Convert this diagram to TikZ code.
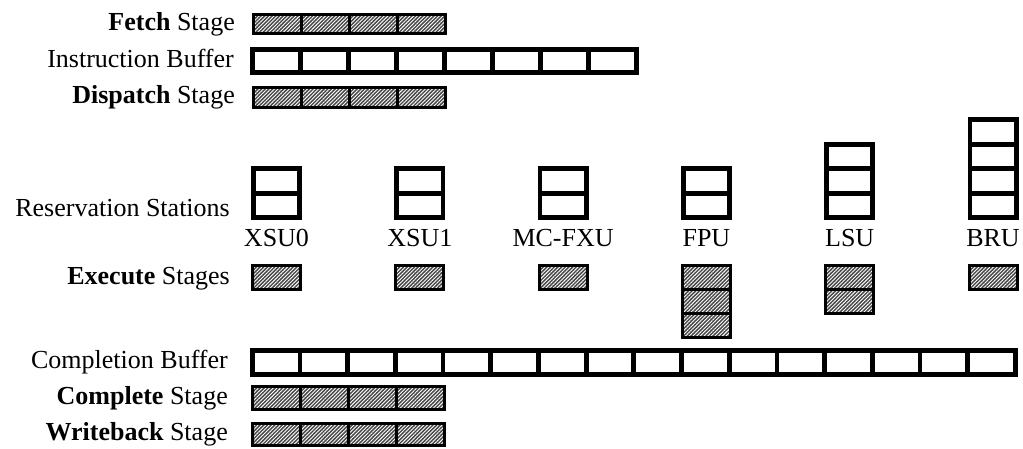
\documentclass[tikz,border=0pt]{standalone}
\usepackage{fontspec}
\setmainfont{Liberation Serif}
\usetikzlibrary{patterns.meta}
\begin{document}
\begin{tikzpicture}[x=1pt,y=-1pt,
  lbl/.style={inner sep=0pt,font=\fontsize{26}{30}\selectfont},
  hatch/.style={preaction={fill=black!72},pattern={Lines[angle=45,distance=2.6pt,line width=0.9pt]},pattern color=white},
  stagecell/.style={draw,line width=3pt,hatch,inner sep=0pt,minimum width=48pt},
  bufcell/.style={draw,line width=4.8pt,fill=white,inner sep=0pt,minimum width=48pt},
  rscell/.style={draw,line width=4.8pt,fill=white,inner sep=0pt,minimum width=46.2pt,minimum height=24.5pt},
  execcell/.style={draw,line width=3pt,hatch,inner sep=0pt,minimum width=48pt,minimum height=24pt}
]
\useasboundingbox (0,0) rectangle (1023,448);

% row labels
\node[lbl,anchor=mid east] (lfetch) at (235,28) {\textbf{Fetch} Stage};
\node[lbl,anchor=mid east] (lib) at (234,65) {Instruction Buffer};
\node[lbl,anchor=mid east] (ldisp) at (235,101.5) {\textbf{Dispatch} Stage};
\node[lbl,anchor=base east] (lrs) at (230,216) {Reservation Stations};
\node[lbl,anchor=mid east] (lex) at (230,282) {\textbf{Execute} Stages};
\node[lbl,anchor=mid east] (lcb) at (228,366.5) {Completion Buffer};
\node[lbl,anchor=mid east] (lcomp) at (228,402) {\textbf{Complete} Stage};
\node[lbl,anchor=mid east] (lwb) at (228,438) {\textbf{Writeback} Stage};

% fetch stage
\foreach \i in {0,...,3}
  \node[stagecell,minimum height=19pt] (fetch\i) at (277.5+48*\i,24) {};
% instruction buffer
\foreach \i in {0,...,7}
  \node[bufcell,minimum height=23.5pt] (ib\i) at (276.25+48*\i,61) {};
% dispatch stage
\foreach \i in {0,...,3}
  \node[stagecell,minimum height=20pt] (disp\i) at (277.5+48*\i,97.5) {};

% reservation stations
\foreach \name/\cx/\n in {XSU0/276.5/2, XSU1/419.8/2, MC-FXU/563.1/2, FPU/706.4/2, LSU/849.7/3, BRU/993/4}{
  \foreach \k in {1,...,\n}
    \node[rscell] (rs\name\k) at (\cx,205.5-24.5*\k+24.5) {};
  \node[lbl,anchor=base] (u\name) at (\cx,246) {\name};
}

% execute stages
\foreach \name/\cx/\n in {XSU0/276.5/1, XSU1/419.8/1, MC-FXU/563.1/1, FPU/706.4/3, LSU/849.7/2, BRU/993/1}{
  \foreach \k in {1,...,\n}
    \node[execcell] (ex\name\k) at (\cx,277.5+24*\k-24) {};
}

% completion buffer
\foreach \i in {0,...,15}
  \node[bufcell,minimum width=47.7pt,minimum height=24.5pt] (cb\i) at (276.1+47.7*\i,362.5) {};
% complete stage
\foreach \i in {0,...,3}
  \node[stagecell,minimum height=23pt] (comp\i) at (276.5+48*\i,398) {};
% writeback stage
\foreach \i in {0,...,3}
  \node[stagecell,minimum height=22pt] (wb\i) at (276.5+48*\i,434.5) {};
\end{tikzpicture}
\end{document}
